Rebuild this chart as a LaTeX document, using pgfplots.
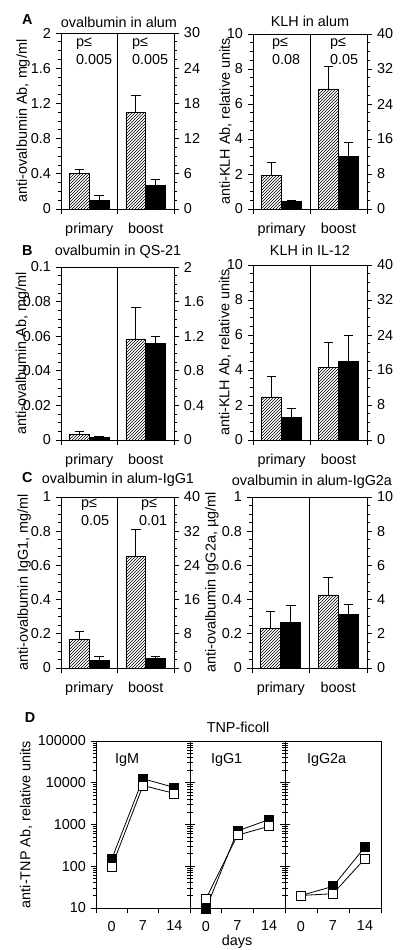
\documentclass[border=0pt]{standalone}
\usepackage{pgfplots}
\pgfplotsset{compat=1.18}
\usepackage{fontspec}
\setmainfont{Liberation Sans}
\usetikzlibrary{patterns}
\newcommand\fs{\fontsize{14.4}{17}\selectfont}

\pgfplotsset{
  base/.style={scale only axis,
    axis line style={line width=0.8pt},
    every tick/.style={line width=0.8pt, black},
    tick label style={font=\fs}, label style={font=\fs},
    major tick length=5pt, minor tick length=3pt, scaled y ticks=false},
  barL/.style={base, xmin=0, xmax=2, ymin=0, tick align=outside,
    ytick pos=left, xtick pos=left, xtick={0,1,2}, xticklabels={},
    extra x ticks={0.5,1.5}, extra x tick labels={primary,boost},
    extra x tick style={major tick style={draw=none}},
    xticklabel shift=4pt,
    minor y tick num=3, clip=false},
  barR/.style={base, xmin=0, xmax=2, ymin=0, axis x line=none,
    axis y line*=right, tick align=outside, minor y tick num=3},
  hb/.style={ybar, bar width=0.35, bar shift=0pt, draw=black, line width=0.8pt,
    pattern=north east lines,
    error bars/y dir=plus, error bars/y explicit,
    error bars/error bar style={line width=0.8pt, black, solid},
    error bars/error mark options={rotate=90, mark size=4.7pt, line width=0.8pt, black}},
  sb/.style={ybar, bar width=0.35, bar shift=0pt, draw=black, fill=black, line width=0.8pt,
    error bars/y dir=plus, error bars/y explicit,
    error bars/error bar style={line width=0.8pt, black, solid},
    error bars/error mark options={rotate=90, mark size=4.7pt, line width=0.8pt, black}},
  dax/.style={base, ymin=10, ymax=100000, xmin=-3.5, xmax=17.5,
    height=167pt, tick align=outside, xtick pos=left,
    xtick={-3.5,3.5,10.5,17.5}, xticklabels={},
    extra x ticks={0,7,14}, extra x tick labels={0,7,14},
    extra x tick style={major tick style={draw=none}},
    xticklabel shift=3pt,
    ytick={10,100,1000,10000,100000},
    minor ytick={20,30,40,50,60,70,80,90,200,300,400,500,600,700,800,900,2000,3000,4000,5000,6000,7000,8000,9000,20000,30000,40000,50000,60000,70000,80000,90000},
    clip=false},
  bl/.style={line width=0.8pt, black, mark=square*, mark size=4.5pt,
    mark options={fill=black, draw=black, line width=0.8pt}},
  wh/.style={line width=0.8pt, black, mark=square*, mark size=4.5pt,
    mark options={fill=white, draw=black, line width=0.8pt}},
  ylab/.style={ylabel style={at={(axis description cs:#1,0.5)}, anchor=center}}
}

\begin{document}
\begin{tikzpicture}[x=1pt,y=1pt]
\path[use as bounding box] (0,0) rectangle (400,-950);
\fs
% ---------------- A left
\begin{axis}[barL, at={(61pt,-209pt)}, anchor=south west, width=113pt, height=176pt,
  ymax=2, ytick={0,0.4,0.8,1.2,1.6,2}, yticklabels={0,0.4,0.8,1.2,1.6,2},
  ylabel={anti-ovalbumin Ab, mg/ml}, ylab=-0.336]
\addplot[hb] coordinates {(0.325,0.40) +- (0,0.055) (1.325,1.10) +- (0,0.19)};
\addplot[sb] coordinates {(0.675,0.10) +- (0,0.05) (1.675,0.27) +- (0,0.065)};
\draw[line width=0.8pt] (rel axis cs:0.5,0) -- (rel axis cs:0.5,1);
\end{axis}
\begin{axis}[barR, at={(61pt,-209pt)}, anchor=south west, width=113pt, height=176pt,
  ymax=30, ytick={0,6,12,18,24,30}, yticklabels={0,6,12,18,24,30}]
\addplot[draw=none] coordinates {(0,0)};
\end{axis}
% ---------------- A right
\begin{axis}[barL, at={(253pt,-209pt)}, anchor=south west, width=114pt, height=175pt,
  ymax=10, ytick={0,2,4,6,8,10}, yticklabels={0,2,4,6,8,10},
  ylabel={anti-KLH Ab, relative units}, ylab=-0.24]
\addplot[hb] coordinates {(0.325,1.92) +- (0,0.74) (1.325,6.86) +- (0,1.29)};
\addplot[sb] coordinates {(0.675,0.45) +- (0,0.07) (1.675,3.0) +- (0,0.8)};
\draw[line width=0.8pt] (rel axis cs:0.5,0) -- (rel axis cs:0.5,1);
\end{axis}
\begin{axis}[barR, at={(253pt,-209pt)}, anchor=south west, width=114pt, height=175pt,
  ymax=40, ytick={0,8,16,24,32,40}, yticklabels={0,8,16,24,32,40}]
\addplot[draw=none] coordinates {(0,0)};
\end{axis}
% ---------------- B left
\begin{axis}[barL, at={(61pt,-440pt)}, anchor=south west, width=113pt, height=173pt,
  ymax=0.1, ytick={0,0.02,0.04,0.06,0.08,0.1}, yticklabels={0,0.02,0.04,0.06,0.08,0.1},
  ylabel={anti-ovalbumin Ab, mg/ml}, ylab=-0.341]
\addplot[hb] coordinates {(0.325,0.0033) +- (0,0.0015) (1.325,0.0584) +- (0,0.0181)};
\addplot[sb] coordinates {(0.675,0.0017) +- (0,0.0004) (1.675,0.0557) +- (0,0.0044)};
\draw[line width=0.8pt] (rel axis cs:0.5,0) -- (rel axis cs:0.5,1);
\end{axis}
\begin{axis}[barR, at={(61pt,-440pt)}, anchor=south west, width=113pt, height=173pt,
  ymax=2, ytick={0,0.4,0.8,1.2,1.6,2}, yticklabels={0,0.4,0.8,1.2,1.6,2}]
\addplot[draw=none] coordinates {(0,0)};
\end{axis}
% ---------------- B right
\begin{axis}[barL, at={(253pt,-440pt)}, anchor=south west, width=114pt, height=175pt,
  ymax=10, ytick={0,2,4,6,8,10}, yticklabels={0,2,4,6,8,10},
  ylabel={anti-KLH Ab, relative units}, ylab=-0.245]
\addplot[hb] coordinates {(0.325,2.46) +- (0,1.18) (1.325,4.17) +- (0,1.43)};
\addplot[sb] coordinates {(0.675,1.28) +- (0,0.53) (1.675,4.47) +- (0,1.49)};
\draw[line width=0.8pt] (rel axis cs:0.5,0) -- (rel axis cs:0.5,1);
\end{axis}
\begin{axis}[barR, at={(253pt,-440pt)}, anchor=south west, width=114pt, height=175pt,
  ymax=40, ytick={0,8,16,24,32,40}, yticklabels={0,8,16,24,32,40}]
\addplot[draw=none] coordinates {(0,0)};
\end{axis}
% ---------------- C left
\begin{axis}[barL, at={(61pt,-668pt)}, anchor=south west, width=113pt, height=171pt,
  ymax=1, ytick={0,0.2,0.4,0.6,0.8,1}, yticklabels={0,0.2,0.4,0.6,0.8,1},
  ylabel={anti-ovalbumin IgG1, mg/ml}, ylab=-0.327]
\addplot[hb] coordinates {(0.325,0.17) +- (0,0.046) (1.325,0.651) +- (0,0.16)};
\addplot[sb] coordinates {(0.675,0.043) +- (0,0.023) (1.675,0.054) +- (0,0.016)};
\draw[line width=0.8pt] (rel axis cs:0.5,0) -- (rel axis cs:0.5,1);
\end{axis}
\begin{axis}[barR, at={(61pt,-668pt)}, anchor=south west, width=113pt, height=171pt,
  ymax=40, ytick={0,8,16,24,32,40}, yticklabels={0,8,16,24,32,40}]
\addplot[draw=none] coordinates {(0,0)};
\end{axis}
% ---------------- C right
\begin{axis}[barL, at={(252pt,-668pt)}, anchor=south west, width=115pt, height=171pt,
  ymax=1, ytick={0,0.2,0.4,0.6,0.8,1}, yticklabels={0,0.2,0.4,0.6,0.8,1},
  ylabel={anti-ovalbumin IgG2a, µg/ml}, ylab=-0.348]
\addplot[hb] coordinates {(0.325,0.232) +- (0,0.101) (1.325,0.427) +- (0,0.101)};
\addplot[sb] coordinates {(0.675,0.265) +- (0,0.099) (1.675,0.312) +- (0,0.06)};
\draw[line width=0.8pt] (rel axis cs:0.5,0) -- (rel axis cs:0.5,1);
\end{axis}
\begin{axis}[barR, at={(252pt,-668pt)}, anchor=south west, width=115pt, height=171pt,
  ymax=10, ytick={0,2,4,6,8,10}, yticklabels={0,2,4,6,8,10}]
\addplot[draw=none] coordinates {(0,0)};
\end{axis}
% ---------------- D
\begin{axis}[ymode=log, dax, at={(96pt,-908pt)}, anchor=south west, width=94pt,
  yticklabels={10,100,1000,10000,100000},
  ytick pos=both, ylabel={anti-TNP Ab, relative units}, ylab=-0.745]
\addplot[bl] coordinates {(0,147) (7,12500) (14,7700)};
\addplot[wh] coordinates {(0,96) (7,8600) (14,5550)};
\end{axis}
\begin{axis}[ymode=log, dax, at={(190pt,-908pt)}, anchor=south west, width=95pt,
  ytick pos=both, yticklabels={}]
\addplot[bl] coordinates {(0,9.5) (7,700) (14,1320)};
\addplot[wh] coordinates {(0,16.4) (7,555) (14,910)};
\end{axis}
\begin{axis}[ymode=log, dax, at={(285pt,-908pt)}, anchor=south west, width=96pt,
  ytick pos=left, yticklabels={}]
\addplot[bl] coordinates {(0,20) (7,33) (14,290)};
\addplot[wh] coordinates {(0,20) (7,22) (14,153)};
\end{axis}
% ---------------- texts
\node[anchor=base west, font=\fs\bfseries] at (17,-25) {A};
\node[anchor=base west, font=\fs\bfseries] at (17,-255) {B};
\node[anchor=base west, font=\fs\bfseries] at (17,-482) {C};
\node[anchor=base west, font=\fs\bfseries] at (20,-722) {D};
\node[anchor=base] at (119,-28) {ovalbumin in alum};
\node[anchor=base] at (310,-27) {KLH in alum};
\node[anchor=base] at (118,-255) {ovalbumin in QS-21};
\node[anchor=base] at (310,-255) {KLH in IL-12};
\node[anchor=base] at (118,-483) {ovalbumin in alum-IgG1};
\node[anchor=base] at (312,-485) {ovalbumin in alum-IgG2a};
\node[anchor=base] at (238,-732) {TNP-ficoll};
\node[anchor=base] at (237,-945) {days};
\node[anchor=base west] at (110,-763) {IgM};
\node[anchor=base west] at (206,-763) {IgG1};
\node[anchor=base west] at (302,-763) {IgG2a};
% p values
\node[anchor=base west] at (71,-47) {p≤};
\node[anchor=base west] at (71,-65) {0.005};
\node[anchor=base west] at (127,-47) {p≤};
\node[anchor=base west] at (127,-65) {0.005};
\node[anchor=base west] at (267,-47) {p≤};
\node[anchor=base west] at (267,-64) {0.08};
\node[anchor=base west] at (325,-47) {p≤};
\node[anchor=base west] at (325,-64) {0.05};
\node[anchor=base west] at (76,-507) {p≤};
\node[anchor=base west] at (76,-525) {0.05};
\node[anchor=base west] at (136,-507) {p≤};
\node[anchor=base west] at (134,-525) {0.01};
\end{tikzpicture}
\end{document}
